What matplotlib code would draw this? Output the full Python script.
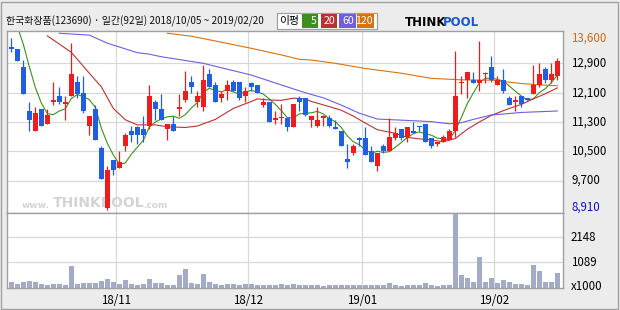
import numpy as np
import pandas as pd
import matplotlib
matplotlib.use("Agg")
import matplotlib.pyplot as plt
from matplotlib.patches import Rectangle
from matplotlib.transforms import blended_transform_factory

plt.rcParams['font.family'] = ['Noto Sans CJK KR', 'DejaVu Sans']

W, H = 620, 310

# daily candles, 2018/10/05 ~ 2019/02/20 (92 trading days)
opens = [13350, 13300, 12800, 11600, 11050, 11650, 11250, 11850, 12000, 11800,
         12000, 12400, 12100, 11200, 11650, 10600, 8950, 10250, 10050, 10650,
         11050, 11150, 11100, 11200, 11850, 11650, 11100, 11250, 11650, 11900,
         12400, 11850, 11700, 12600, 12300, 11950, 12150, 12400, 12400, 12000,
         12350, 12300, 11750, 11850, 11350, 11400, 11400, 11150, 11950, 11950,
         11350, 11200, 11400, 11400, 11150, 11050, 10300, 10450, 10850, 10850,
         10500, 10100, 10650, 10500, 10850, 11100, 10900, 11050, 11200, 11250,
         10850, 10700, 10750, 10800, 11050, 12350, 12450, 12450, 12350, 12600,
         12800, 12300, 12450, 11950, 11850, 12000, 11950, 12050, 12300, 12750,
         12450, 12550]
highs = [13600, 13300, 13000, 11850, 11700, 11650, 11650, 12400, 12250, 12000,
         13450, 12550, 12550, 11450, 11750, 10650, 10100, 10250, 10500, 11000,
         11200, 11200, 11450, 12300, 11900, 12050, 11250, 11450, 12050, 12700,
         12550, 12150, 12850, 12750, 12400, 12150, 12450, 12450, 12400, 12250,
         12400, 12300, 11950, 11850, 11600, 11800, 11400, 11800, 12000, 11950,
         11450, 11700, 11500, 11500, 11350, 11050, 10700, 10700, 10900, 11150,
         10650, 10450, 10700, 11400, 11150, 11100, 11150, 11300, 11200, 11250,
         10850, 10750, 10950, 11100, 13250, 12550, 12650, 12650, 13500, 12650,
         13100, 12550, 12750, 12000, 12000, 12000, 11950, 12850, 12900, 12800,
         12900, 13050]
lows = [13200, 12950, 12050, 11050, 11050, 11200, 11250, 11750, 11800, 11350,
        12000, 11950, 11550, 10950, 10800, 9750, 8910, 9850, 10050, 10500,
        10750, 10700, 10750, 11100, 11350, 11350, 10800, 11050, 11450, 11850,
        12100, 11700, 11600, 12250, 11850, 11850, 11900, 12150, 11900, 11850,
        12150, 12100, 11700, 11300, 11250, 11250, 11050, 11150, 11600, 11450,
        11150, 11150, 11200, 11150, 11100, 10650, 10050, 10400, 10650, 10400,
        10200, 9950, 10450, 10500, 10800, 10800, 10750, 11000, 11050, 10750,
        10600, 10650, 10750, 10800, 10900, 12050, 11950, 12350, 12150, 12350,
        12400, 12300, 12100, 11750, 11600, 11700, 11900, 12050, 12250, 12350,
        12350, 12450]
closes = [13300, 12950, 12050, 11350, 11550, 11200, 11500, 11900, 11850, 11850,
          12600, 12050, 11600, 11450, 10800, 9750, 10000, 10000, 10200, 10950,
          10950, 10950, 10950, 12000, 11650, 11350, 11250, 11050, 11700, 12150,
          12250, 12000, 12450, 12250, 11850, 12050, 12300, 12150, 11950, 12150,
          12250, 12100, 11850, 11300, 11400, 11400, 11150, 11800, 11850, 11500,
          11450, 11350, 11450, 11200, 11100, 10650, 10200, 10650, 10800, 10400,
          10200, 10450, 10500, 10900, 11000, 10850, 11150, 11000, 11150, 10750,
          10650, 10750, 10900, 11050, 12000, 12400, 12650, 12350, 12450, 12600,
          12450, 12450, 12150, 11750, 11900, 11800, 11900, 12300, 12600, 12450,
          12600, 12950]
# volume, x1000 shares
volumes = [241, 170, 256, 284, 241, 170, 114, 185, 170, 114,
           923, 156, 199, 199, 213, 298, 369, 256, 156, 327,
           156, 114, 156, 369, 199, 199, 114, 114, 540, 795,
           199, 156, 582, 241, 156, 114, 156, 156, 114, 156,
           156, 114, 114, 114, 114, 156, 114, 156, 114, 114,
           114, 114, 71, 114, 114, 114, 114, 114, 114, 114,
           114, 114, 114, 199, 114, 71, 114, 114, 114, 199,
           114, 71, 114, 114, 3138, 540, 426, 256, 1306, 256,
           426, 199, 327, 256, 170, 170, 114, 966, 724, 256,
           256, 639]
# closes just before the window (only the start of MA5 shows them)
prev_closes = [14500, 14500, 14400, 14400]

# moving averages (day index, value)
ma20_days = [6, 10, 13, 15, 17, 19, 21, 24, 26, 29, 31, 34, 37, 40, 41, 43, 45, 47, 49,
             50, 53, 55, 57, 59, 61, 64, 66, 68, 70, 72, 74, 76, 78, 80, 83, 85, 87, 89, 91]
ma20_vals = [13650, 13200, 12630, 12260, 11670, 11360, 11220, 11220, 11170, 11150, 11190,
             11370, 11670, 11860, 11930, 11900, 11890, 11950, 11930, 11860, 11720, 11620,
             11460, 11270, 11090, 10990, 10880, 10840, 10810, 10760, 10850, 11100, 11300,
             11480, 11670, 11780, 11930, 12070, 12230]
ma60_days = [8, 13, 16, 21, 23, 25, 32, 40, 45, 48, 50, 52, 55, 58, 61, 65, 70, 73, 75,
             77, 80, 85, 91]
ma60_vals = [13720, 13670, 13450, 13190, 13150, 13080, 12900, 12580, 12310, 12150, 12050,
             11960, 11760, 11540, 11380, 11350, 11310, 11250, 11280, 11370, 11490, 11560,
             11600]
ma120_days = [26, 30, 34, 40, 45, 48, 50, 54, 59, 65, 70, 75, 80, 85, 88, 91]
ma120_vals = [13720, 13640, 13510, 13310, 13130, 13010, 12990, 12900, 12760, 12630, 12490,
              12450, 12440, 12350, 12310, 12290]

price_ticks = [12900, 12100, 11300, 10500, 9700]
vol_ticks = [2148, 1089]
month_start = [18, 40, 59, 81]
month_labels = ['18/11', '18/12', '19/01', '19/02']

RED = '#ee1c1c'
BLUE = '#1f5fe0'
C5, C20, C60, C120 = '#3d8f1f', '#b83232', '#6e5fdc', '#d8720c'
GRID = '#d8d8d8'
EDGE = '#a0a0a0'
WM = '#d4d4d4'

fig = plt.figure(figsize=(W / 100, H / 100), dpi=100, facecolor='#ececec')


def box(x0, y0, x1, y1):
    return [x0 / W, 1 - y1 / H, (x1 - x0) / W, (y1 - y0) / H]


ax = fig.add_axes(box(7, 31, 563, 212.6))
axv = fig.add_axes(box(7, 212.6, 563, 288))

x = np.arange(len(closes))
o = np.array(opens)
c = np.array(closes)
cols = [RED if cc >= oo else BLUE for oo, cc in zip(o, c)]

for a in (ax, axv):
    a.set_facecolor('white')
    a.set_xlim(-0.72, 91.95)
    a.set_xticks([])
    a.set_yticks([])
    for s in a.spines.values():
        s.set_color(EDGE)
        s.set_linewidth(1.0)
    for m in month_start:
        a.axvline(m - 0.5, color=GRID, lw=0.9, zorder=0)

ax.set_ylim(8828, 13782)
for t in price_ticks:
    ax.axhline(t, color=GRID, lw=0.9, zorder=0)

# watermark (under the candles)
tf = fig.transFigure
ax.text(22 / W, 1 - 205 / H, 'www.', transform=tf, color=WM, fontsize=6.5, fontweight='bold',
        va='center', family='DejaVu Sans', zorder=1)
ax.text(53 / W, 1 - 203 / H, 'THINKPOOL', transform=tf, color=WM, fontsize=10, fontweight='bold',
        va='center', family='DejaVu Sans', zorder=1)
ax.text(143 / W, 1 - 205 / H, '.com', transform=tf, color=WM, fontsize=6.5, fontweight='bold',
        va='center', family='DejaVu Sans', zorder=1)

ax.vlines(x, lows, highs, colors=cols, lw=0.9, zorder=3)
body = np.maximum(np.abs(c - o), 30)
ax.bar(x, body, bottom=np.minimum(o, c), width=0.8, color=cols, linewidth=0, zorder=4)

ma5 = pd.Series(prev_closes + closes).rolling(5).mean().to_numpy()[len(prev_closes):]
ax.plot(x, ma5, color=C5, lw=0.8, zorder=2)
ax.plot(ma20_days, ma20_vals, color=C20, lw=0.8, zorder=2)
ax.plot(ma60_days, ma60_vals, color=C60, lw=0.8, zorder=2)
ax.plot(ma120_days, ma120_vals, color=C120, lw=0.8, zorder=2)

axv.set_ylim(0, 3200)
for t in vol_ticks:
    axv.axhline(t, color=GRID, lw=0.9, zorder=0)
axv.bar(x, volumes, width=0.8, color='#a3abc6', linewidth=0, zorder=2)

# right-hand labels
tp = blended_transform_factory(fig.transFigure, ax.transData)
lx = 571 / W
ax.text(lx, 13600, '13,600', transform=tp, color='#d06a10', fontsize=8.3, va='center')
for t in price_ticks:
    ax.text(lx, t, f'{t:,}', transform=tp, color='black', fontsize=8.3, va='center')
ax.text(lx, 8990, '8,910', transform=tp, color='#1010c0', fontsize=8.3, va='center')

tv = blended_transform_factory(fig.transFigure, axv.transData)
for t in vol_ticks:
    axv.text(lx, t, str(t), transform=tv, color='black', fontsize=8.3, va='center')
axv.text(lx, 60, 'x1000', transform=tv, color='black', fontsize=8.3, va='center')

td = blended_transform_factory(axv.transData, fig.transFigure)
for m, lab in zip(month_start, month_labels):
    axv.text(m - 0.5, 1 - 300 / H, lab, transform=td, ha='center', va='center',
             fontsize=8.3, color='black')

# header
fig.text(6 / W, 1 - 21 / H, '한국화장품(123690) · 일간(92일) 2018/10/05 ~ 2019/02/20',
         fontsize=7.2, va='center', color='#111111')
fig.patches.append(Rectangle((277 / W, 1 - 29 / H), 100 / W, 16.5 / H, transform=fig.transFigure,
                             facecolor='white', edgecolor=EDGE, lw=0.9))
fig.text(279 / W, 1 - 20.8 / H, '이평', fontsize=7.8, va='center', color='black')
for (x0, x1), lab, col in zip([(302, 318), (321, 337), (339, 356), (357, 374)],
                              ['5', '20', '60', '120'], [C5, C20, C60, C120]):
    fig.patches.append(Rectangle((x0 / W, 1 - 27.5 / H), (x1 - x0) / W, 13.5 / H,
                                 transform=fig.transFigure, facecolor=col, lw=0))
    fig.text((x1 - 1.5) / W, 1 - 20.8 / H, lab, fontsize=7.6, va='center', ha='right', color='white')

# logo
fig.text(405 / W, 1 - 22 / H, 'THINK', fontsize=8.5, fontweight='bold', va='center',
         color='black', family='DejaVu Sans')
fig.text(443 / W, 1 - 22 / H, 'POOL', fontsize=8.5, fontweight='bold', va='center',
         color='#1a56d0', family='DejaVu Sans')

# outer frame
fig.patches.append(Rectangle((1 / W, 1 / H), 617 / W, 307 / H, transform=fig.transFigure,
                             facecolor='none', edgecolor=EDGE, lw=1.0))

fig.savefig('out.png', dpi=100, facecolor=fig.get_facecolor())
